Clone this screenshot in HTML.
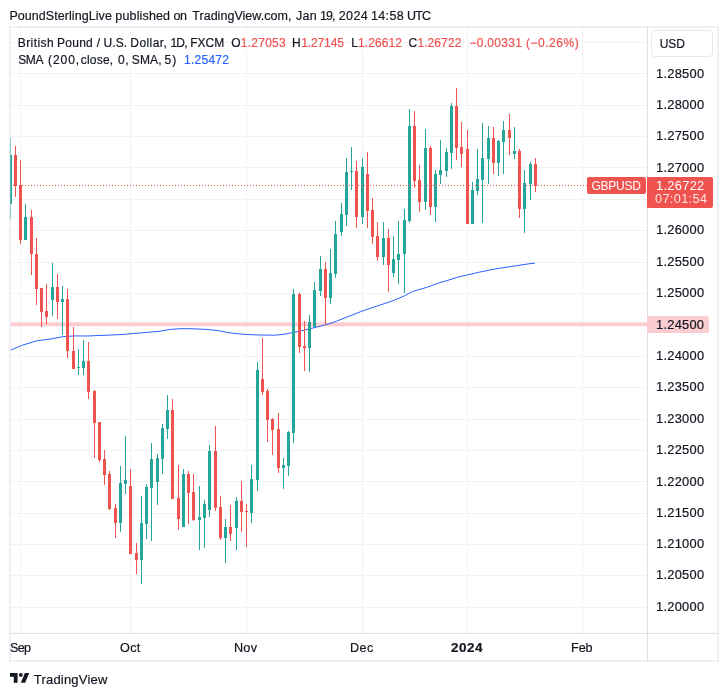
<!DOCTYPE html>
<html><head><meta charset="utf-8"><title>GBPUSD chart</title>
<style>
html,body{margin:0;padding:0;background:#fff;}
body{width:727px;height:696px;position:relative;overflow:hidden;font-family:"Liberation Sans",sans-serif;color:#131722;}
.frame{position:absolute;left:9px;top:26px;width:705.5px;height:632px;border:2px solid #eff0f5;}
svg{position:absolute;left:0;top:0;}
.vdiv{position:absolute;left:647px;top:28px;width:1px;height:632px;background:#dfe0e5;}
.hdiv{position:absolute;left:11px;top:633px;width:706px;height:1px;background:#dfe0e5;}
.bg{position:absolute;background:#fff;}
.txt{position:absolute;left:0;top:0;width:727px;height:696px;will-change:transform;}
.t{position:absolute;white-space:nowrap;line-height:16px;transform-origin:0 0;-webkit-text-stroke:0.2px;}
.usd{position:absolute;left:650.7px;top:30.4px;width:60.5px;height:24.8px;border:1px solid #e6e8ee;border-radius:4px;background:#fff;}
.sym{position:absolute;left:587.4px;top:177px;width:58.6px;height:17px;background:#ef5350;border-radius:2px;}
.ptag{position:absolute;left:647px;top:177px;width:66px;height:30.6px;background:#ef5350;border-radius:0 2px 2px 0;}
.ltag{position:absolute;left:647px;top:316px;width:62px;height:16.5px;background:#fbcdd0;border-radius:0 2px 2px 0;}
</style></head><body>
<div class="frame"></div>
<svg width="727" height="696" viewBox="0 0 727 696">
<defs><clipPath id="cp"><rect x="10.5" y="28" width="636.5" height="605"/></clipPath></defs>
<g clip-path="url(#cp)">
<rect x="11" y="42" width="636" height="1" fill="#f1f2f4"/>
<rect x="11" y="73" width="636" height="1" fill="#f1f2f4"/>
<rect x="11" y="105" width="636" height="1" fill="#f1f2f4"/>
<rect x="11" y="136" width="636" height="1" fill="#f1f2f4"/>
<rect x="11" y="167" width="636" height="1" fill="#f1f2f4"/>
<rect x="11" y="199" width="636" height="1" fill="#f1f2f4"/>
<rect x="11" y="230" width="636" height="1" fill="#f1f2f4"/>
<rect x="11" y="262" width="636" height="1" fill="#f1f2f4"/>
<rect x="11" y="293" width="636" height="1" fill="#f1f2f4"/>
<rect x="11" y="356" width="636" height="1" fill="#f1f2f4"/>
<rect x="11" y="387" width="636" height="1" fill="#f1f2f4"/>
<rect x="11" y="419" width="636" height="1" fill="#f1f2f4"/>
<rect x="11" y="450" width="636" height="1" fill="#f1f2f4"/>
<rect x="11" y="481" width="636" height="1" fill="#f1f2f4"/>
<rect x="11" y="513" width="636" height="1" fill="#f1f2f4"/>
<rect x="11" y="544" width="636" height="1" fill="#f1f2f4"/>
<rect x="11" y="575" width="636" height="1" fill="#f1f2f4"/>
<rect x="11" y="607" width="636" height="1" fill="#f1f2f4"/>
<rect x="20" y="28" width="1" height="605" fill="#f1f2f4"/>
<rect x="130" y="28" width="1" height="605" fill="#f1f2f4"/>
<rect x="246" y="28" width="1" height="605" fill="#f1f2f4"/>
<rect x="362" y="28" width="1" height="605" fill="#f1f2f4"/>
<rect x="467" y="28" width="1" height="605" fill="#f1f2f4"/>
<rect x="582" y="28" width="1" height="605" fill="#f1f2f4"/>
<rect x="11" y="322.3" width="636" height="4" fill="#fbcdd0"/>
<path d="M10.8 350.1 L21.5 345.5 L36.4 340.9 L51.2 338.9 L62.8 336.7 L74.3 335.9 L87.5 336.0 L104.0 335.3 L114.5 334.9 L124.8 334.3 L131.0 333.7 L152.6 331.9 L160.0 331.2 L169.6 329.5 L179.3 328.7 L190.8 328.7 L208.1 329.5 L217.8 330.6 L227.4 332.5 L237.0 333.7 L246.7 334.5 L260.1 335.0 L275.5 335.2 L285.2 334.1 L293.2 332.4 L300.0 331.2 L310.0 328.7 L320.0 326.3 L330.0 323.5 L336.5 321.2 L346.1 317.4 L362.9 310.8 L377.8 305.8 L392.6 300.9 L404.4 295.9 L412.4 291.5 L427.6 287.1 L440.0 282.6 L446.5 280.8 L458.1 277.0 L467.6 274.9 L479.5 272.1 L496.0 268.8 L512.5 266.3 L529.0 263.8 L534.8 263.2" fill="none" stroke="#2962ff" stroke-width="1.0" stroke-linejoin="round"/>
<rect x="10" y="138" width="1" height="81" fill="#26a69a"/>
<rect x="9" y="155" width="3" height="49" fill="#26a69a"/>
<rect x="15" y="146" width="1" height="51" fill="#ef5350"/>
<rect x="14" y="155" width="3" height="31" fill="#ef5350"/>
<rect x="20" y="160" width="1" height="84" fill="#ef5350"/>
<rect x="19" y="185" width="3" height="55" fill="#ef5350"/>
<rect x="25" y="204" width="1" height="36" fill="#26a69a"/>
<rect x="24" y="217" width="3" height="23" fill="#26a69a"/>
<rect x="31" y="210" width="1" height="65" fill="#ef5350"/>
<rect x="30" y="217" width="3" height="37" fill="#ef5350"/>
<rect x="36" y="238" width="1" height="67" fill="#ef5350"/>
<rect x="35" y="254" width="3" height="35" fill="#ef5350"/>
<rect x="41" y="288" width="1" height="39" fill="#ef5350"/>
<rect x="40" y="288" width="3" height="24" fill="#ef5350"/>
<rect x="46" y="284" width="1" height="40" fill="#ef5350"/>
<rect x="45" y="311" width="3" height="6" fill="#ef5350"/>
<rect x="52" y="263" width="1" height="53" fill="#26a69a"/>
<rect x="51" y="287" width="3" height="13" fill="#26a69a"/>
<rect x="57" y="274" width="1" height="45" fill="#ef5350"/>
<rect x="56" y="287" width="3" height="15" fill="#ef5350"/>
<rect x="62" y="286" width="1" height="49" fill="#26a69a"/>
<rect x="61" y="299" width="3" height="3" fill="#26a69a"/>
<rect x="67" y="289" width="1" height="69" fill="#ef5350"/>
<rect x="66" y="299" width="3" height="52" fill="#ef5350"/>
<rect x="73" y="327" width="1" height="42" fill="#ef5350"/>
<rect x="72" y="351" width="3" height="18" fill="#ef5350"/>
<rect x="78" y="349" width="1" height="26" fill="#26a69a"/>
<rect x="77" y="367" width="3" height="1" fill="#26a69a"/>
<rect x="83" y="340" width="1" height="35" fill="#26a69a"/>
<rect x="82" y="361" width="3" height="7" fill="#26a69a"/>
<rect x="88" y="342" width="1" height="57" fill="#ef5350"/>
<rect x="87" y="361" width="3" height="31" fill="#ef5350"/>
<rect x="94" y="390" width="1" height="68" fill="#ef5350"/>
<rect x="93" y="391" width="3" height="32" fill="#ef5350"/>
<rect x="99" y="422" width="1" height="40" fill="#ef5350"/>
<rect x="98" y="422" width="3" height="38" fill="#ef5350"/>
<rect x="104" y="450" width="1" height="35" fill="#ef5350"/>
<rect x="103" y="459" width="3" height="16" fill="#ef5350"/>
<rect x="109" y="471" width="1" height="39" fill="#ef5350"/>
<rect x="108" y="474" width="3" height="35" fill="#ef5350"/>
<rect x="115" y="504" width="1" height="34" fill="#ef5350"/>
<rect x="114" y="508" width="3" height="15" fill="#ef5350"/>
<rect x="120" y="466" width="1" height="66" fill="#26a69a"/>
<rect x="119" y="483" width="3" height="40" fill="#26a69a"/>
<rect x="125" y="436" width="1" height="58" fill="#26a69a"/>
<rect x="124" y="480" width="3" height="4" fill="#26a69a"/>
<rect x="130" y="469" width="1" height="85" fill="#ef5350"/>
<rect x="129" y="486" width="3" height="68" fill="#ef5350"/>
<rect x="136" y="543" width="1" height="31" fill="#ef5350"/>
<rect x="135" y="553" width="3" height="7" fill="#ef5350"/>
<rect x="141" y="496" width="1" height="88" fill="#26a69a"/>
<rect x="140" y="523" width="3" height="37" fill="#26a69a"/>
<rect x="146" y="484" width="1" height="55" fill="#26a69a"/>
<rect x="145" y="487" width="3" height="37" fill="#26a69a"/>
<rect x="151" y="443" width="1" height="98" fill="#26a69a"/>
<rect x="150" y="459" width="3" height="29" fill="#26a69a"/>
<rect x="157" y="454" width="1" height="51" fill="#26a69a"/>
<rect x="156" y="458" width="3" height="24" fill="#26a69a"/>
<rect x="162" y="424" width="1" height="50" fill="#26a69a"/>
<rect x="161" y="428" width="3" height="31" fill="#26a69a"/>
<rect x="167" y="395" width="1" height="44" fill="#26a69a"/>
<rect x="166" y="410" width="3" height="19" fill="#26a69a"/>
<rect x="172" y="399" width="1" height="100" fill="#ef5350"/>
<rect x="171" y="410" width="3" height="89" fill="#ef5350"/>
<rect x="178" y="465" width="1" height="65" fill="#ef5350"/>
<rect x="177" y="498" width="3" height="21" fill="#ef5350"/>
<rect x="183" y="469" width="1" height="58" fill="#26a69a"/>
<rect x="182" y="474" width="3" height="53" fill="#26a69a"/>
<rect x="188" y="471" width="1" height="53" fill="#ef5350"/>
<rect x="187" y="474" width="3" height="19" fill="#ef5350"/>
<rect x="193" y="474" width="1" height="47" fill="#ef5350"/>
<rect x="192" y="492" width="3" height="28" fill="#ef5350"/>
<rect x="199" y="486" width="1" height="64" fill="#26a69a"/>
<rect x="198" y="517" width="3" height="3" fill="#26a69a"/>
<rect x="204" y="500" width="1" height="48" fill="#26a69a"/>
<rect x="203" y="504" width="3" height="14" fill="#26a69a"/>
<rect x="209" y="445" width="1" height="72" fill="#26a69a"/>
<rect x="208" y="451" width="3" height="59" fill="#26a69a"/>
<rect x="215" y="426" width="1" height="85" fill="#ef5350"/>
<rect x="214" y="451" width="3" height="57" fill="#ef5350"/>
<rect x="220" y="496" width="1" height="44" fill="#ef5350"/>
<rect x="219" y="507" width="3" height="31" fill="#ef5350"/>
<rect x="225" y="519" width="1" height="44" fill="#26a69a"/>
<rect x="224" y="527" width="3" height="11" fill="#26a69a"/>
<rect x="230" y="505" width="1" height="36" fill="#ef5350"/>
<rect x="229" y="527" width="3" height="7" fill="#ef5350"/>
<rect x="236" y="497" width="1" height="53" fill="#26a69a"/>
<rect x="235" y="501" width="3" height="27" fill="#26a69a"/>
<rect x="241" y="481" width="1" height="51" fill="#ef5350"/>
<rect x="240" y="501" width="3" height="11" fill="#ef5350"/>
<rect x="246" y="504" width="1" height="43" fill="#ef5350"/>
<rect x="245" y="511" width="3" height="1" fill="#ef5350"/>
<rect x="251" y="465" width="1" height="58" fill="#26a69a"/>
<rect x="250" y="479" width="3" height="34" fill="#26a69a"/>
<rect x="257" y="362" width="1" height="129" fill="#26a69a"/>
<rect x="256" y="370" width="3" height="110" fill="#26a69a"/>
<rect x="262" y="338" width="1" height="57" fill="#ef5350"/>
<rect x="261" y="379" width="3" height="13" fill="#ef5350"/>
<rect x="267" y="389" width="1" height="53" fill="#ef5350"/>
<rect x="266" y="391" width="3" height="29" fill="#ef5350"/>
<rect x="272" y="418" width="1" height="37" fill="#ef5350"/>
<rect x="271" y="419" width="3" height="11" fill="#ef5350"/>
<rect x="278" y="413" width="1" height="60" fill="#ef5350"/>
<rect x="277" y="429" width="3" height="39" fill="#ef5350"/>
<rect x="283" y="458" width="1" height="31" fill="#26a69a"/>
<rect x="282" y="465" width="3" height="3" fill="#26a69a"/>
<rect x="288" y="431" width="1" height="45" fill="#26a69a"/>
<rect x="287" y="432" width="3" height="34" fill="#26a69a"/>
<rect x="293" y="289" width="1" height="154" fill="#26a69a"/>
<rect x="292" y="294" width="3" height="139" fill="#26a69a"/>
<rect x="299" y="293" width="1" height="60" fill="#ef5350"/>
<rect x="298" y="294" width="3" height="53" fill="#ef5350"/>
<rect x="304" y="321" width="1" height="50" fill="#ef5350"/>
<rect x="303" y="346" width="3" height="2" fill="#ef5350"/>
<rect x="309" y="315" width="1" height="57" fill="#26a69a"/>
<rect x="308" y="322" width="3" height="26" fill="#26a69a"/>
<rect x="314" y="282" width="1" height="45" fill="#26a69a"/>
<rect x="313" y="290" width="3" height="37" fill="#26a69a"/>
<rect x="320" y="256" width="1" height="40" fill="#26a69a"/>
<rect x="319" y="269" width="3" height="22" fill="#26a69a"/>
<rect x="325" y="262" width="1" height="63" fill="#ef5350"/>
<rect x="324" y="269" width="3" height="29" fill="#ef5350"/>
<rect x="330" y="249" width="1" height="55" fill="#26a69a"/>
<rect x="329" y="273" width="3" height="25" fill="#26a69a"/>
<rect x="335" y="221" width="1" height="57" fill="#26a69a"/>
<rect x="334" y="234" width="3" height="40" fill="#26a69a"/>
<rect x="341" y="203" width="1" height="33" fill="#26a69a"/>
<rect x="340" y="214" width="3" height="18" fill="#26a69a"/>
<rect x="346" y="158" width="1" height="68" fill="#26a69a"/>
<rect x="345" y="172" width="3" height="43" fill="#26a69a"/>
<rect x="351" y="147" width="1" height="43" fill="#26a69a"/>
<rect x="350" y="171" width="3" height="1" fill="#26a69a"/>
<rect x="356" y="161" width="1" height="67" fill="#ef5350"/>
<rect x="355" y="171" width="3" height="46" fill="#ef5350"/>
<rect x="362" y="158" width="1" height="66" fill="#26a69a"/>
<rect x="361" y="167" width="3" height="50" fill="#26a69a"/>
<rect x="367" y="152" width="1" height="76" fill="#ef5350"/>
<rect x="366" y="174" width="3" height="37" fill="#ef5350"/>
<rect x="372" y="198" width="1" height="46" fill="#ef5350"/>
<rect x="371" y="210" width="3" height="27" fill="#ef5350"/>
<rect x="377" y="222" width="1" height="39" fill="#ef5350"/>
<rect x="376" y="236" width="3" height="21" fill="#ef5350"/>
<rect x="383" y="222" width="1" height="43" fill="#26a69a"/>
<rect x="382" y="238" width="3" height="19" fill="#26a69a"/>
<rect x="388" y="229" width="1" height="63" fill="#ef5350"/>
<rect x="387" y="238" width="3" height="27" fill="#ef5350"/>
<rect x="393" y="236" width="1" height="41" fill="#26a69a"/>
<rect x="392" y="259" width="3" height="14" fill="#26a69a"/>
<rect x="398" y="221" width="1" height="63" fill="#26a69a"/>
<rect x="397" y="254" width="3" height="6" fill="#26a69a"/>
<rect x="404" y="209" width="1" height="84" fill="#26a69a"/>
<rect x="403" y="220" width="3" height="34" fill="#26a69a"/>
<rect x="409" y="109" width="1" height="114" fill="#26a69a"/>
<rect x="408" y="126" width="3" height="95" fill="#26a69a"/>
<rect x="414" y="111" width="1" height="77" fill="#ef5350"/>
<rect x="413" y="126" width="3" height="55" fill="#ef5350"/>
<rect x="419" y="165" width="1" height="47" fill="#ef5350"/>
<rect x="418" y="180" width="3" height="22" fill="#ef5350"/>
<rect x="425" y="129" width="1" height="81" fill="#26a69a"/>
<rect x="424" y="148" width="3" height="54" fill="#26a69a"/>
<rect x="430" y="146" width="1" height="69" fill="#ef5350"/>
<rect x="429" y="148" width="3" height="59" fill="#ef5350"/>
<rect x="435" y="170" width="1" height="52" fill="#26a69a"/>
<rect x="434" y="174" width="3" height="33" fill="#26a69a"/>
<rect x="440" y="140" width="1" height="44" fill="#26a69a"/>
<rect x="439" y="170" width="3" height="5" fill="#26a69a"/>
<rect x="446" y="148" width="1" height="29" fill="#26a69a"/>
<rect x="445" y="152" width="3" height="19" fill="#26a69a"/>
<rect x="451" y="103" width="1" height="66" fill="#26a69a"/>
<rect x="450" y="106" width="3" height="47" fill="#26a69a"/>
<rect x="456" y="88" width="1" height="72" fill="#ef5350"/>
<rect x="455" y="106" width="3" height="42" fill="#ef5350"/>
<rect x="461" y="122" width="1" height="45" fill="#ef5350"/>
<rect x="460" y="147" width="3" height="7" fill="#ef5350"/>
<rect x="467" y="130" width="1" height="94" fill="#ef5350"/>
<rect x="466" y="149" width="3" height="75" fill="#ef5350"/>
<rect x="472" y="182" width="1" height="42" fill="#26a69a"/>
<rect x="471" y="190" width="3" height="34" fill="#26a69a"/>
<rect x="477" y="149" width="1" height="46" fill="#26a69a"/>
<rect x="476" y="179" width="3" height="12" fill="#26a69a"/>
<rect x="482" y="123" width="1" height="100" fill="#26a69a"/>
<rect x="481" y="158" width="3" height="22" fill="#26a69a"/>
<rect x="488" y="126" width="1" height="58" fill="#26a69a"/>
<rect x="487" y="138" width="3" height="21" fill="#26a69a"/>
<rect x="493" y="127" width="1" height="47" fill="#ef5350"/>
<rect x="492" y="138" width="3" height="25" fill="#ef5350"/>
<rect x="498" y="140" width="1" height="36" fill="#26a69a"/>
<rect x="497" y="141" width="3" height="22" fill="#26a69a"/>
<rect x="503" y="121" width="1" height="53" fill="#26a69a"/>
<rect x="502" y="130" width="3" height="12" fill="#26a69a"/>
<rect x="509" y="114" width="1" height="41" fill="#ef5350"/>
<rect x="508" y="130" width="3" height="8" fill="#ef5350"/>
<rect x="514" y="127" width="1" height="32" fill="#26a69a"/>
<rect x="513" y="151" width="3" height="3" fill="#26a69a"/>
<rect x="519" y="149" width="1" height="69" fill="#ef5350"/>
<rect x="518" y="151" width="3" height="58" fill="#ef5350"/>
<rect x="524" y="170" width="1" height="63" fill="#26a69a"/>
<rect x="523" y="183" width="3" height="26" fill="#26a69a"/>
<rect x="530" y="162" width="1" height="38" fill="#26a69a"/>
<rect x="529" y="164" width="3" height="20" fill="#26a69a"/>
<rect x="535" y="158" width="1" height="34" fill="#ef5350"/>
<rect x="534" y="164" width="3" height="22" fill="#ef5350"/>
<line x1="13" y1="185.5" x2="587" y2="185.5" stroke="#ef5350" stroke-width="1" stroke-dasharray="1 2"/>
</g>
</svg>
<div class="vdiv"></div><div class="hdiv"></div>
<div class="bg" style="left:17.5px;top:35px;width:207.5px;height:15px"></div><div class="bg" style="left:230.5px;top:35px;width:56.0px;height:15px"></div><div class="bg" style="left:291.5px;top:35px;width:53.5px;height:15px"></div><div class="bg" style="left:350.5px;top:35px;width:52.5px;height:15px"></div><div class="bg" style="left:407.5px;top:35px;width:54.5px;height:15px"></div><div class="bg" style="left:468.5px;top:35px;width:111.0px;height:15px"></div>
<div class="bg" style="left:17.5px;top:52px;width:160.0px;height:15px"></div><div class="bg" style="left:183.5px;top:52px;width:46.5px;height:15px"></div>
<div class="usd"></div>
<div class="sym"></div>
<div class="ptag"></div>
<div class="ltag"></div>
<div class="txt">
<span class="t" style="left:9.40px;top:7.77px;font-size:12.5px;letter-spacing:0.062px;color:#131722;">PoundSterlingLive</span>
<span class="t" style="left:115.35px;top:7.77px;font-size:12.5px;letter-spacing:0.150px;color:#131722;">published</span>
<span class="t" style="left:173.50px;top:7.77px;font-size:12.5px;letter-spacing:-0.500px;color:#131722;">on</span>
<span class="t" style="left:192.25px;top:7.77px;font-size:12.5px;letter-spacing:0.030px;color:#131722;">TradingView.com,</span>
<span class="t" style="left:295.95px;top:7.77px;font-size:12.5px;letter-spacing:0.300px;color:#131722;">Jan</span>
<span class="t" style="left:319.90px;top:7.77px;font-size:12.5px;letter-spacing:-0.875px;color:#131722;">19,</span>
<span class="t" style="left:338.75px;top:7.77px;font-size:12.5px;letter-spacing:0.383px;color:#131722;">2024</span>
<span class="t" style="left:371.10px;top:7.77px;font-size:12.5px;letter-spacing:0.312px;color:#131722;">14:58</span>
<span class="t" style="left:407.00px;top:7.77px;font-size:12.5px;letter-spacing:-0.775px;color:#131722;">UTC</span>
<span class="t" style="left:17.70px;top:34.74px;font-size:12px;letter-spacing:0.450px;color:#131722;">British</span>
<span class="t" style="left:57.10px;top:34.74px;font-size:12px;letter-spacing:0.250px;color:#131722;">Pound</span>
<span class="t" style="left:96.70px;top:34.74px;font-size:12px;letter-spacing:0.000px;color:#131722;">/</span>
<span class="t" style="left:103.50px;top:34.74px;font-size:12px;letter-spacing:0.083px;color:#131722;">U.S.</span>
<span class="t" style="left:130.30px;top:34.74px;font-size:12px;letter-spacing:0.417px;color:#131722;">Dollar,</span>
<span class="t" style="left:170.50px;top:34.74px;font-size:12px;letter-spacing:-0.850px;color:#131722;">1D,</span>
<span class="t" style="left:190.20px;top:34.74px;font-size:12px;letter-spacing:0.000px;color:#131722;">FXCM</span>
<span class="t" style="left:231.20px;top:34.74px;font-size:12px;letter-spacing:0.000px;color:#131722;">O</span>
<span class="t" style="left:240.80px;top:34.74px;font-size:12px;letter-spacing:0.258px;color:#ef5350;">1.27053</span>
<span class="t" style="left:291.90px;top:34.74px;font-size:12px;letter-spacing:0.000px;color:#131722;">H</span>
<span class="t" style="left:301.20px;top:34.74px;font-size:12px;letter-spacing:-0.117px;color:#ef5350;">1.27145</span>
<span class="t" style="left:351.20px;top:34.74px;font-size:12px;letter-spacing:0.000px;color:#131722;">L</span>
<span class="t" style="left:358.00px;top:34.74px;font-size:12px;letter-spacing:0.092px;color:#ef5350;">1.26612</span>
<span class="t" style="left:408.60px;top:34.74px;font-size:12px;letter-spacing:0.000px;color:#131722;">C</span>
<span class="t" style="left:417.40px;top:34.74px;font-size:12px;letter-spacing:0.092px;color:#ef5350;">1.26722</span>
<span class="t" style="left:469.50px;top:34.74px;font-size:12px;letter-spacing:0.279px;color:#ef5350;">−0.00331</span>
<span class="t" style="left:525.95px;top:34.74px;font-size:12px;letter-spacing:0.529px;color:#ef5350;">(−0.26%)</span>
<span class="t" style="left:18.20px;top:51.84px;font-size:12px;letter-spacing:-0.400px;color:#131722;">SMA</span>
<span class="t" style="left:48.05px;top:51.84px;font-size:12px;letter-spacing:0.950px;color:#131722;">(200,</span>
<span class="t" style="left:80.70px;top:51.84px;font-size:12px;letter-spacing:0.230px;color:#131722;">close,</span>
<span class="t" style="left:117.90px;top:51.84px;font-size:12px;letter-spacing:0.600px;color:#131722;">0,</span>
<span class="t" style="left:131.80px;top:51.84px;font-size:12px;letter-spacing:0.117px;color:#131722;">SMA,</span>
<span class="t" style="left:164.50px;top:51.84px;font-size:12px;letter-spacing:1.200px;color:#131722;">5)</span>
<span class="t" style="left:184.00px;top:51.84px;font-size:12px;letter-spacing:0.258px;color:#2962ff;">1.25472</span>
<span class="t" style="left:655.53px;top:66.14px;font-size:12px;letter-spacing:0.259px;color:#131722;transform:scaleX(1.07);">1.28500</span>
<span class="t" style="left:655.53px;top:97.14px;font-size:12px;letter-spacing:0.259px;color:#131722;transform:scaleX(1.07);">1.28000</span>
<span class="t" style="left:655.53px;top:128.14px;font-size:12px;letter-spacing:0.259px;color:#131722;transform:scaleX(1.07);">1.27500</span>
<span class="t" style="left:655.53px;top:160.14px;font-size:12px;letter-spacing:0.259px;color:#131722;transform:scaleX(1.07);">1.27000</span>
<span class="t" style="left:655.53px;top:222.14px;font-size:12px;letter-spacing:0.259px;color:#131722;transform:scaleX(1.07);">1.26000</span>
<span class="t" style="left:655.53px;top:254.14px;font-size:12px;letter-spacing:0.259px;color:#131722;transform:scaleX(1.07);">1.25500</span>
<span class="t" style="left:655.53px;top:285.14px;font-size:12px;letter-spacing:0.259px;color:#131722;transform:scaleX(1.07);">1.25000</span>
<span class="t" style="left:655.53px;top:348.14px;font-size:12px;letter-spacing:0.259px;color:#131722;transform:scaleX(1.07);">1.24000</span>
<span class="t" style="left:655.53px;top:379.14px;font-size:12px;letter-spacing:0.259px;color:#131722;transform:scaleX(1.07);">1.23500</span>
<span class="t" style="left:655.53px;top:411.14px;font-size:12px;letter-spacing:0.259px;color:#131722;transform:scaleX(1.07);">1.23000</span>
<span class="t" style="left:655.53px;top:442.14px;font-size:12px;letter-spacing:0.259px;color:#131722;transform:scaleX(1.07);">1.22500</span>
<span class="t" style="left:655.53px;top:474.14px;font-size:12px;letter-spacing:0.259px;color:#131722;transform:scaleX(1.07);">1.22000</span>
<span class="t" style="left:655.53px;top:505.14px;font-size:12px;letter-spacing:0.259px;color:#131722;transform:scaleX(1.07);">1.21500</span>
<span class="t" style="left:655.53px;top:536.14px;font-size:12px;letter-spacing:0.259px;color:#131722;transform:scaleX(1.07);">1.21000</span>
<span class="t" style="left:655.53px;top:567.14px;font-size:12px;letter-spacing:0.259px;color:#131722;transform:scaleX(1.07);">1.20500</span>
<span class="t" style="left:655.53px;top:599.14px;font-size:12px;letter-spacing:0.259px;color:#131722;transform:scaleX(1.07);">1.20000</span>
<span class="t" style="left:659.70px;top:35.64px;font-size:12px;letter-spacing:-0.025px;color:#131722;">USD</span>
<span class="t" style="left:591.50px;top:177.74px;font-size:12px;letter-spacing:-0.260px;color:#ffffff;-webkit-text-stroke:0;">GBPUSD</span>
<span class="t" style="left:655.73px;top:177.74px;font-size:12px;letter-spacing:0.285px;color:#ffffff;transform:scaleX(1.07);-webkit-text-stroke:0;">1.26722</span>
<span class="t" style="left:655.27px;top:191.34px;font-size:12px;letter-spacing:0.329px;color:#ffffff;opacity:0.85;transform:scaleX(1.06);-webkit-text-stroke:0;">07:01:54</span>
<span class="t" style="left:655.73px;top:316.74px;font-size:12px;letter-spacing:0.243px;color:#131722;transform:scaleX(1.07);">1.24500</span>
<span class="t" style="left:9.78px;top:639.74px;font-size:12px;letter-spacing:-0.631px;color:#131722;transform:scaleX(1.05);">Sep</span>
<span class="t" style="left:120.17px;top:639.74px;font-size:12px;letter-spacing:0.333px;color:#131722;transform:scaleX(1.05);">Oct</span>
<span class="t" style="left:234.15px;top:639.74px;font-size:12px;letter-spacing:0.256px;color:#131722;transform:scaleX(1.05);">Nov</span>
<span class="t" style="left:349.55px;top:639.74px;font-size:12px;letter-spacing:0.429px;color:#131722;transform:scaleX(1.05);">Dec</span>
<span class="t" style="left:451.24px;top:639.74px;font-size:12px;letter-spacing:0.446px;color:#131722;font-weight:700;transform:scaleX(1.12);">2024</span>
<span class="t" style="left:571.35px;top:639.74px;font-size:12px;letter-spacing:-0.054px;color:#131722;transform:scaleX(1.05);">Feb</span>
<span class="t" style="left:33.75px;top:671.50px;font-size:13px;letter-spacing:0.205px;color:#131722;">TradingView</span>
</div>
<svg style="left:9.95px;top:673.2px" width="19.5" height="9.75" viewBox="0 0 36 18"><path fill="#131722" d="M14 18H7V7H0V0h14v18zM35.5 0 28 18h-8l7.5-18h8z"/><circle cx="20" cy="3.5" r="3.5" fill="#131722"/></svg>
</body></html>
